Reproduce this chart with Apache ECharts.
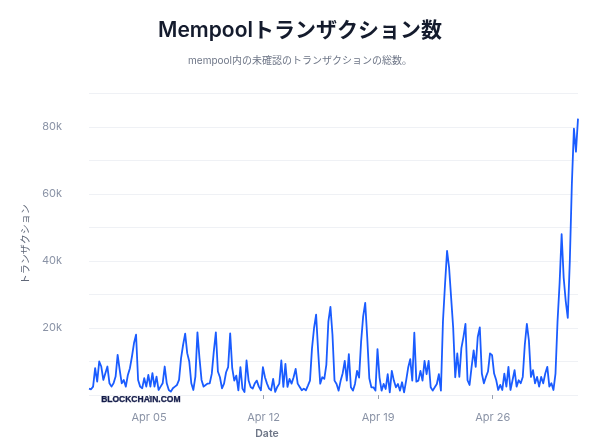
<!DOCTYPE html>
<html><head><meta charset="utf-8">
<script src="https://cdn.jsdelivr.net/npm/echarts@6/dist/echarts.min.js"></script>
<style>html,body{margin:0;padding:0;background:#fff}#chart{width:600px;height:446px}</style>
</head><body><div id="chart"></div>
<script>
const titleText = 'Mempoolトランザクション数';
const subtitleText = 'mempool内の未確認のトランザクションの総数。';
const yAxisName = 'トランザクション';
const xAxisName = 'Date';
const watermark = 'BLOCKCHAIN.COM';
const startTime = '2024-04-01T08:00:00Z';
const stepHours = 3;
// mempool size, thousands of transactions, one value per 3 hours
const mempoolK = [
  1.9,1.7,2.5,8,4,10,8.5,4.5,6.5,8.5,
  3.5,2.5,3.5,5.5,12,7.5,3.5,4.5,2.5,6,
  8,11.5,15.5,18,4.5,2.5,2,5,2.5,6,
  2.5,6.5,2.5,5.5,1.5,2.5,3.5,8.5,3.5,1.5,
  1,2,2.5,3,4.5,11,15,18.3,12.5,10,
  3.5,1.5,5.5,18.7,11,4.5,2.5,3,3.4,3.5,
  6.3,13,18.7,7,5.3,2,3.4,6.8,8.3,18.4,
  8,4.3,5.8,1.4,8.3,1.9,0.9,10.3,4.3,2.4,
  1.9,3.4,4.3,2.5,1.4,8.3,5.3,3.4,1.9,1.4,
  4.8,0.9,2.4,3.4,10.3,2.4,9.3,2.4,4.8,3.4,
  5.3,7.8,3.4,2.4,1.4,1.9,1.4,2.8,4.3,14,
  20,24,13,3.4,5.3,4.8,9,22,26.3,18,
  4.3,3.3,1.3,4.3,6.5,10.2,4.3,12.2,2.3,1.3,
  3.3,7.2,5.2,16,23.5,27.5,17,5,2.3,2.3,
  1.3,13.7,5.2,1.3,3.3,1.8,6.2,0.8,7.2,4.3,
  2.3,3.3,1.3,3.8,0.8,4.3,8.2,10.7,4.3,18.6,
  4,4.3,7.2,4.3,10.2,6.2,10.2,2.3,1.3,2.3,
  3.3,6.2,1.3,22,33,43,38,29,20,5.3,
  12.4,5.4,14,17.3,21.2,4.4,3,8.4,13.3,8.4,
  17.3,20.2,6.4,3.5,5.4,7,12.4,11.9,6.4,4.5,
  1.5,3,1.5,6.4,2.5,8.4,1.5,4.4,7.4,2.5,
  4.4,3.5,5.4,15,21.2,16.3,5.4,7.4,3.5,5.4,
  2.5,5.4,3.5,6.4,8.4,2.5,3.5,1.5,6.4,22,
  33.3,48,35,28,23,40,63,79.5,72.6,82.5
];
const xTickDates = ['2024-04-05','2024-04-12','2024-04-19','2024-04-26'];
const yTickValues = [20000,40000,60000,80000];
const months = ['Jan','Feb','Mar','Apr','May','Jun','Jul','Aug','Sep','Oct','Nov','Dec'];

const t0 = Date.parse(startTime);
const seriesData = mempoolK.map((v, i) => [t0 + i * stepHours * 3600e3, v * 1000]);
const xTicks = xTickDates.map(d => Date.parse(d + 'T00:00:00Z'));

const font = 'Inter, "Noto Sans CJK JP", "Noto Sans", sans-serif';
const chart = echarts.init(document.getElementById('chart'), null, {renderer: 'canvas'});
chart.setOption({
  animation: false,
  backgroundColor: '#ffffff',
  title: [
    {text: titleText, left: 'center', top: 15,
     textStyle: {fontFamily: font, fontSize: 21, fontWeight: 600, color: '#141b2d'}},
    {text: subtitleText, left: 'center', top: 51,
     textStyle: {fontFamily: font, fontSize: 10, fontWeight: 400, color: '#6e7687'}}
  ],
  grid: {left: 89, right: 22, top: 93.5, bottom: 51},
  xAxis: {
    type: 'value',
    min: seriesData[0][0], max: seriesData[seriesData.length - 1][0],
    offset: 9,
    axisLine: {show: false},
    axisTick: {show: true, length: 4, customValues: xTicks, lineStyle: {color: '#9aa2b1'}},
    axisLabel: {
      customValues: xTicks, margin: 8, hideOverlap: false,
      fontFamily: font, fontSize: 11, color: '#8a93a6',
      formatter: v => { const d = new Date(v); return months[d.getUTCMonth()] + ' ' + String(d.getUTCDate()).padStart(2, '0'); }
    },
    splitLine: {show: false}
  },
  yAxis: {
    type: 'value', min: 0, max: 90000, interval: 10000,
    name: yAxisName, nameLocation: 'middle', nameGap: 56,
    nameTextStyle: {fontFamily: font, fontSize: 10, color: '#5f6778'},
    axisLine: {show: false}, axisTick: {show: false},
    axisLabel: {
      margin: 27, fontFamily: font, fontSize: 11, color: '#8a93a6',
      formatter: v => yTickValues.includes(v) ? (v / 1000) + 'k' : ''
    },
    splitLine: {lineStyle: {color: '#eff1f5', width: 1}}
  },
  graphic: [
    {type: 'text', left: 101, top: 395,
     style: {text: watermark, fontFamily: '"Liberation Sans", Arial, sans-serif', fontSize: 8.5, fontWeight: 'bold', fill: '#141c4a', stroke: '#141c4a', lineWidth: 0.3}},
    {type: 'text', x: 267, y: 434,
     style: {text: xAxisName, fontFamily: font, fontSize: 10.5, fontWeight: 600, fill: '#6e7687', align: 'center', verticalAlign: 'middle'}}
  ],
  series: [{
    type: 'line', data: seriesData, showSymbol: false, symbol: 'none',
    lineStyle: {color: '#1a5cff', width: 1.8, join: 'round'}, z: 3
  }]
});
</script></body></html>
